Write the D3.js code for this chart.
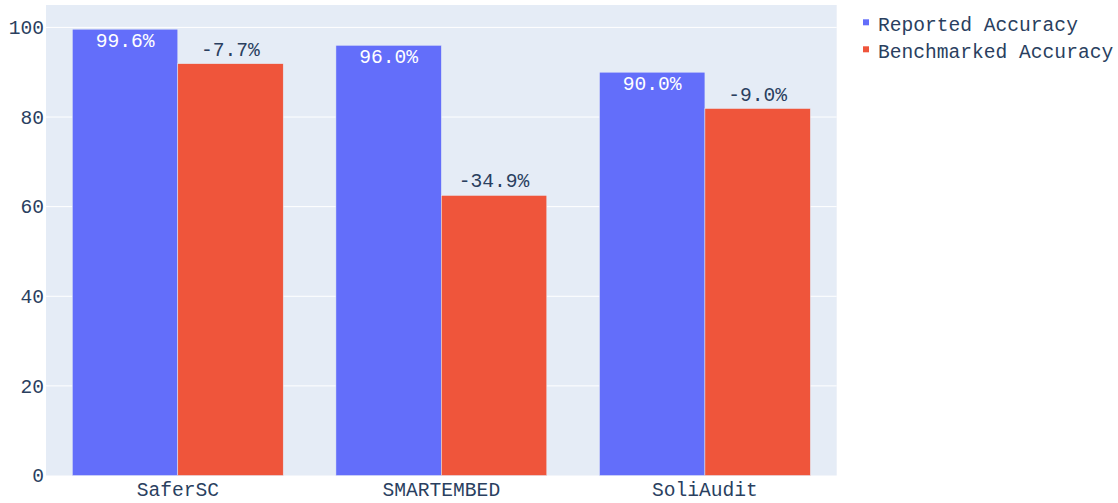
<!DOCTYPE html>
<html>
<head>
<meta charset="utf-8">
<script src="https://cdn.jsdelivr.net/npm/d3@7"></script>
<style>
  html, body { margin: 0; padding: 0; background: #fff; }
  svg { display: block; }
  text { font-family: "Liberation Mono", "DejaVu Sans Mono", monospace; }
</style>
</head>
<body>
<svg id="chart" width="1118" height="503"></svg>
<script>
// Tools compared
const tools = ["SaferSC", "SMARTEMBED", "SoliAudit"];
// Accuracy (%) as reported by each tool's authors
const reportedAccuracy = [99.6, 96.0, 90.0];
// Accuracy (%) measured on the benchmark
const benchmarkedAccuracy = [91.9, 62.5, 81.9];
// Y axis ticks
const yTicks = [0, 20, 40, 60, 80, 100];
const seriesNames = ["Reported Accuracy", "Benchmarked Accuracy"];
const seriesColors = ["#636efa", "#EF553B"];

const W = 1118, H = 503;
const margin = { left: 46, right: 281.3, top: 5, bottom: 27.5 };
const fontSize = 19.6;
const textColor = "#2a3f5f";

const svg = d3.select("#chart");

const x0 = d3.scaleBand()
  .domain(tools)
  .range([margin.left, W - margin.right])
  .paddingInner(0.2)
  .paddingOuter(0.1);

const x1 = d3.scaleBand()
  .domain([0, 1])
  .range([0, x0.bandwidth()]);

const y = d3.scaleLinear()
  .domain([0, 105])
  .range([H - margin.bottom, margin.top]);

// plot background
svg.append("rect")
  .attr("x", margin.left)
  .attr("y", margin.top)
  .attr("width", W - margin.right - margin.left)
  .attr("height", H - margin.bottom - margin.top)
  .attr("fill", "#E5ECF6");

// horizontal grid lines
svg.append("g")
  .selectAll("line")
  .data(yTicks.filter(d => d > 0))
  .join("line")
  .attr("x1", margin.left)
  .attr("x2", W - margin.right)
  .attr("y1", d => y(d))
  .attr("y2", d => y(d))
  .attr("stroke", "#ffffff")
  .attr("stroke-width", 1);

// y axis labels
const yAxis = d3.axisLeft(y).tickValues(yTicks).tickSize(0).tickPadding(2);
svg.append("g")
  .attr("transform", `translate(${margin.left},0)`)
  .call(yAxis)
  .call(g => g.select(".domain").remove())
  .call(g => g.selectAll("text")
    .attr("font-size", fontSize)
    .attr("font-family", "Liberation Mono, DejaVu Sans Mono, monospace")
    .attr("fill", textColor));

// x axis labels
const xAxis = d3.axisBottom(x0).tickSize(0).tickPadding(7);
svg.append("g")
  .attr("transform", `translate(0,${H - margin.bottom})`)
  .call(xAxis)
  .call(g => g.select(".domain").remove())
  .call(g => g.selectAll("text")
    .attr("font-size", fontSize)
    .attr("font-family", "Liberation Mono, DejaVu Sans Mono, monospace")
    .attr("fill", textColor));

const rows = tools.map((t, i) => ({
  tool: t,
  reported: reportedAccuracy[i],
  benchmarked: benchmarkedAccuracy[i],
  change: (benchmarkedAccuracy[i] - reportedAccuracy[i]) / reportedAccuracy[i] * 100
}));

const groups = svg.append("g")
  .selectAll("g")
  .data(rows)
  .join("g")
  .attr("transform", d => `translate(${x0(d.tool)},0)`);

// reported bars
groups.append("rect")
  .attr("x", x1(0))
  .attr("width", x1.bandwidth())
  .attr("y", d => y(d.reported))
  .attr("height", d => y(0) - y(d.reported))
  .attr("fill", seriesColors[0])
  .attr("stroke", "#E5ECF6")
  .attr("stroke-width", 0.5);

// benchmarked bars
groups.append("rect")
  .attr("x", x1(1))
  .attr("width", x1.bandwidth())
  .attr("y", d => y(d.benchmarked))
  .attr("height", d => y(0) - y(d.benchmarked))
  .attr("fill", seriesColors[1])
  .attr("stroke", "#E5ECF6")
  .attr("stroke-width", 0.5);

// reported value, inside the top of the bar
groups.append("text")
  .attr("x", x1(0) + x1.bandwidth() / 2)
  .attr("y", d => y(d.reported) + 17.7)
  .attr("text-anchor", "middle")
  .attr("font-size", fontSize)
  .attr("fill", "#ffffff")
  .text(d => d.reported.toFixed(1) + "%");

// relative change, above the benchmarked bar
groups.append("text")
  .attr("x", x1(1) + x1.bandwidth() / 2)
  .attr("y", d => y(d.benchmarked) - 8)
  .attr("text-anchor", "middle")
  .attr("font-size", fontSize)
  .attr("fill", textColor)
  .text(d => d.change.toFixed(1) + "%");

// legend
const legend = svg.append("g")
  .selectAll("g")
  .data(seriesNames)
  .join("g")
  .attr("transform", (d, i) => `translate(866,${22.3 + i * 27})`);

legend.append("rect")
  .attr("x", -3)
  .attr("y", -3)
  .attr("width", 6)
  .attr("height", 6)
  .attr("fill", (d, i) => seriesColors[i]);

legend.append("text")
  .attr("x", 12)
  .attr("y", 8.4)
  .attr("font-size", fontSize)
  .attr("fill", textColor)
  .text(d => d);
</script>
</body>
</html>
